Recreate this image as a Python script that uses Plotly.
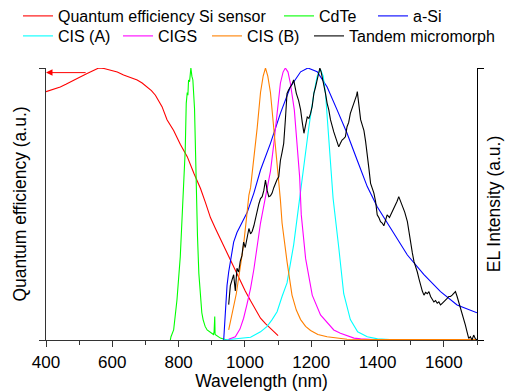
import plotly.graph_objects as go

# ---------------- data ----------------
qe_x = [400, 420, 443, 460, 483, 500, 524, 540, 559, 575, 594, 615, 634, 655, 675, 690, 705, 718, 730, 740,
        750, 765, 785, 805, 826, 846, 866, 881, 896, 911, 926, 941, 956, 971, 986, 1001, 1017, 1032, 1047,
        1062, 1077, 1090, 1100]
qe_y = [0.913, 0.92, 0.93, 0.94, 0.956, 0.965, 0.98, 0.99, 1.0, 0.998, 0.993, 0.985, 0.974, 0.965, 0.956,
        0.945, 0.93, 0.917, 0.90, 0.88, 0.858, 0.81, 0.77, 0.72, 0.674, 0.613, 0.557, 0.505, 0.45, 0.41,
        0.372, 0.33, 0.29, 0.252, 0.217, 0.18, 0.144, 0.11, 0.08, 0.06, 0.044, 0.028, 0.016]

cdte_x = [775, 777, 785, 795, 805, 810, 815, 820, 823, 826, 828, 830, 833, 837, 840, 843, 848, 851, 854, 857,
          861, 866, 870, 874, 880, 886, 893, 901, 905, 907, 909, 910, 915, 920, 926, 935, 941, 946]
cdte_y = [0.0, 0.012, 0.037, 0.147, 0.306, 0.43, 0.53, 0.70, 0.87, 0.91, 0.90, 0.956, 0.95, 1.0, 0.97, 0.956,
          0.85, 0.66, 0.47, 0.38, 0.245, 0.147, 0.10, 0.074, 0.05, 0.037, 0.03, 0.025, 0.02, 0.03, 0.086, 0.02,
          0.015, 0.01, 0.007, 0.004, 0.002, 0.0]

asi_x = [936, 938, 941, 946, 951, 956, 966, 976, 986, 996, 1007, 1017, 1027, 1047, 1077, 1107, 1137, 1168,
         1190, 1218, 1248, 1278, 1308, 1339, 1369, 1399, 1439, 1490, 1540, 1590, 1640, 1700]
asi_y = [0.0, 0.05, 0.104, 0.2, 0.25, 0.29, 0.36, 0.395, 0.42, 0.445, 0.47, 0.505, 0.54, 0.625, 0.723, 0.833,
         0.93, 0.986, 1.0, 0.986, 0.93, 0.846, 0.76, 0.66, 0.564, 0.49, 0.41, 0.3125, 0.24, 0.178, 0.129, 0.1]

cisa_x = [936, 976, 1017, 1047, 1067, 1082, 1097, 1112, 1127, 1147, 1165, 1178, 1193, 1208, 1218, 1228, 1236,
          1243, 1250, 1258, 1266, 1283, 1298, 1318, 1340, 1369, 1400, 1450, 1700]
cisa_y = [0.0, 0.004, 0.01, 0.03, 0.05, 0.075, 0.104, 0.16, 0.21, 0.35, 0.52, 0.66, 0.784, 0.907, 0.97, 0.995,
          0.97, 0.907, 0.784, 0.66, 0.52, 0.34, 0.17, 0.075, 0.03, 0.012, 0.004, 0.001, 0.0]

cigs_x = [951, 971, 985, 996, 1006, 1017, 1027, 1037, 1047, 1061, 1077, 1087, 1097, 1107, 1115, 1122, 1130,
          1137, 1149, 1157, 1165, 1170, 1183, 1203, 1228, 1268, 1288, 1329, 1349, 1400]
cigs_y = [0.003, 0.012, 0.04, 0.08, 0.13, 0.19, 0.26, 0.35, 0.43, 0.52, 0.62, 0.72, 0.846, 0.944, 0.985, 1.0,
          0.985, 0.944, 0.846, 0.72, 0.6, 0.46, 0.3, 0.165, 0.092, 0.037, 0.025, 0.007, 0.004, 0.001]

cisb_x = [951, 958, 966, 974, 981, 988, 996, 1004, 1012, 1017, 1027, 1037, 1047, 1055, 1062, 1069, 1077, 1087,
          1097, 1107, 1112, 1120, 1127, 1142, 1155, 1168, 1183, 1198, 1220, 1248, 1280, 1308, 1400, 1500,
          1600, 1700]
cisb_y = [0.037, 0.075, 0.117, 0.17, 0.227, 0.28, 0.35, 0.44, 0.533, 0.56, 0.66, 0.78, 0.91, 0.97, 1.0, 0.97,
          0.91, 0.78, 0.66, 0.515, 0.43, 0.35, 0.288, 0.165, 0.11, 0.075, 0.05, 0.035, 0.02, 0.012, 0.006,
          0.003, 0.002, 0.002, 0.002, 0.002]

tan_x = [951, 953, 956, 961, 966, 971, 976, 981, 986, 991, 996, 1001, 1006, 1012, 1017, 1022, 1027, 1032, 1037,
         1042, 1047, 1052, 1057, 1062, 1067, 1072, 1077, 1082, 1087, 1092, 1097, 1102, 1107, 1112, 1117, 1122,
         1127, 1132, 1137, 1142, 1147, 1151, 1155, 1162, 1168, 1173, 1178, 1183, 1188, 1193, 1198, 1203, 1208,
         1213, 1218, 1222, 1226, 1230, 1233, 1238, 1243, 1248, 1253, 1258, 1263, 1268, 1273, 1278, 1283, 1288,
         1293, 1298, 1303, 1308, 1313, 1318, 1323, 1328, 1333, 1337, 1339, 1342, 1345, 1349, 1354, 1359, 1364,
         1369, 1374, 1379, 1384, 1389, 1394, 1399, 1404, 1409, 1414, 1419, 1424, 1429, 1436, 1444, 1449, 1454,
         1459, 1464, 1469, 1475, 1482, 1490, 1495, 1500, 1505, 1510, 1515, 1520, 1525, 1530, 1535, 1540, 1545,
         1550, 1555, 1560, 1565, 1570, 1575, 1580, 1585, 1590, 1595, 1600, 1605, 1610, 1615, 1620, 1625, 1630,
         1635, 1640, 1645, 1650, 1655, 1660, 1665, 1670, 1675, 1680, 1685, 1690, 1695, 1700]
tan_y = [0.13, 0.17, 0.2, 0.22, 0.24, 0.18, 0.264, 0.25, 0.29, 0.31, 0.36, 0.34, 0.38, 0.41, 0.39, 0.40, 0.42,
         0.45, 0.48, 0.50, 0.52, 0.527, 0.55, 0.588, 0.55, 0.527, 0.53, 0.54, 0.56, 0.576, 0.59, 0.60, 0.66,
         0.69, 0.723, 0.81, 0.907, 0.92, 0.93, 0.94, 0.956, 0.93, 0.907, 0.88, 0.846, 0.80, 0.76, 0.79, 0.82,
         0.815, 0.833, 0.86, 0.907, 0.93, 0.956, 0.98, 1.0, 0.985, 0.968, 0.94, 0.907, 0.87, 0.846, 0.81, 0.784,
         0.765, 0.747, 0.73, 0.71, 0.723, 0.735, 0.74, 0.747, 0.784, 0.80, 0.833, 0.85, 0.87, 0.88, 0.90, 0.913,
         0.88, 0.83, 0.81, 0.79, 0.77, 0.73, 0.686, 0.63, 0.576, 0.56, 0.54, 0.51, 0.46, 0.45, 0.435, 0.43,
         0.42, 0.44, 0.46, 0.45, 0.47, 0.48, 0.496, 0.51, 0.527, 0.51, 0.496, 0.47, 0.435, 0.39, 0.35, 0.32,
         0.288, 0.27, 0.25, 0.225, 0.2, 0.18, 0.165, 0.175, 0.17, 0.178, 0.16, 0.15, 0.14, 0.145, 0.135, 0.14,
         0.129, 0.135, 0.14, 0.145, 0.153, 0.16, 0.16, 0.165, 0.17, 0.178, 0.16, 0.14, 0.115, 0.092, 0.075,
         0.055, 0.03, 0.006, 0.012, 0.0, 0.018, 0.005, 0.0]

x_ticks = [400, 600, 800, 1000, 1200, 1400, 1600]
arrow_y = 0.983
arrow_from_x = 524

FONT = "Liberation Sans, Arial, sans-serif"

# series: (name, x, y, color, yaxis, legend left px, legend row)
series = [
    ("Quantum efficiency Si sensor", qe_x, qe_y, "#FF0000", "y", 18, 0),
    ("CdTe", cdte_x, cdte_y, "#00FF00", "y2", 279, 0),
    ("a-Si", asi_x, asi_y, "#0000FF", "y2", 373, 0),
    ("CIS (A)", cisa_x, cisa_y, "#00FFFF", "y2", 18, 1),
    ("CIGS", cigs_x, cigs_y, "#FF00FF", "y2", 118, 1),
    ("CIS (B)", cisb_x, cisb_y, "#FF8000", "y2", 207, 1),
    ("Tandem micromorph", tan_x, tan_y, "#000000", "y2", 309, 1),
]
row_y = [16, 36]

fig = go.Figure()
legends = {}
for i, (name, xs, ys, col, yax, lx, row) in enumerate(series):
    lname = "legend" if i == 0 else f"legend{i + 1}"
    fig.add_trace(go.Scatter(x=xs, y=ys, mode="lines", name=name, yaxis=yax,
                             line=dict(color=col, width=1.1), legend=lname))
    legends[lname] = dict(orientation="h", font=dict(family=FONT, size=16, color="#000"),
                          bgcolor="rgba(0,0,0,0)", xref="container", yref="container",
                          xanchor="left", yanchor="middle", x=lx / 510, y=1 - row_y[row] / 391,
                          itemclick=False, borderwidth=0)

fig.add_annotation(x=400, y=arrow_y, ax=arrow_from_x, ay=arrow_y, xref="x", yref="y", axref="x", ayref="y",
                   text="", showarrow=True, arrowhead=2, arrowsize=1.3, arrowwidth=1, arrowcolor="#FF0000")

axis_col = "#333333"
fig.update_layout(
    width=510, height=391,
    margin=dict(l=46, r=33, t=68, b=51),
    paper_bgcolor="white", plot_bgcolor="white",
    font=dict(family=FONT, size=17, color="#000"),
    showlegend=True,
    xaxis=dict(range=[400, 1700], showline=True, linecolor=axis_col, linewidth=1.2, showgrid=False,
               zeroline=False, ticks="outside", ticklen=6, tickwidth=1.2, tickcolor=axis_col,
               tickvals=x_ticks, tickfont=dict(size=17),
               minor=dict(ticks="outside", ticklen=4, tickwidth=1.2, tickcolor=axis_col, tick0=400, dtick=100),
               title=dict(text="Wavelength (nm)", font=dict(size=17.5), standoff=2),
               automargin=False),
    yaxis=dict(range=[0, 1], showline=True, linecolor=axis_col, linewidth=1.2, showgrid=False, zeroline=False,
               ticks="outside", ticklen=6, tickwidth=1.2, tickcolor=axis_col, tickvals=[0, 1],
               showticklabels=False,
               title=dict(text="Quantum efficiency (a.u.)", font=dict(size=17.5), standoff=7),
               automargin=False),
    yaxis2=dict(range=[0, 1], overlaying="y", side="right", showline=True, linecolor="#000", linewidth=1.2,
                showgrid=False, zeroline=False, ticks="outside", ticklen=6, tickwidth=1.2, tickcolor="#000",
                tickvals=[0, 1], showticklabels=False,
                title=dict(text="EL Intensity (a.u.)", font=dict(size=17.5), standoff=4),
                automargin=False),
    **legends,
)

fig.write_html("out.html")
